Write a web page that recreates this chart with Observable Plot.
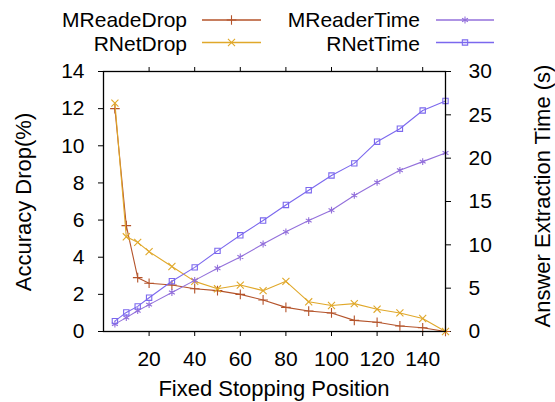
<!DOCTYPE html>
<html>
<head>
<meta charset="utf-8">
<script src="https://cdn.jsdelivr.net/npm/d3@7"></script>
<script src="https://cdn.jsdelivr.net/npm/@observablehq/plot@0.6"></script>
<style>
  html, body { margin: 0; padding: 0; background: white; }
  #chart svg { display: block; }
</style>
</head>
<body>
<div id="chart"></div>
<script>
const positions = [5, 10, 15, 20, 30, 40, 50, 60, 70, 80, 90, 100, 110, 120, 130, 140, 150];
const mreadeDrop = [12.0, 5.7, 2.9, 2.6, 2.5, 2.3, 2.2, 2.0, 1.7, 1.3, 1.1, 1.0, 0.6, 0.5, 0.3, 0.2, 0];
const rnetDrop = [12.3, 5.1, 4.8, 4.3, 3.5, 2.7, 2.3, 2.5, 2.2, 2.7, 1.6, 1.4, 1.5, 1.2, 1.0, 0.7, 0];
const mreaderTime = [0.85, 1.6, 2.4, 3.1, 4.5, 5.9, 7.3, 8.6, 10.1, 11.5, 12.8, 14.0, 15.7, 17.2, 18.6, 19.6, 20.6];
const rnetTime = [1.2, 2.2, 2.9, 3.9, 5.8, 7.4, 9.3, 11.1, 12.8, 14.6, 16.3, 18.0, 19.4, 21.9, 23.4, 25.5, 26.6];

const xTicks = [20, 40, 60, 80, 100, 120, 140];
const leftTicks = [0, 2, 4, 6, 8, 10, 12, 14];
const rightTicks = [0, 5, 10, 15, 20, 25, 30];
const leftMax = 14, rightMax = 30;
const k = leftMax / rightMax;

const series = [
  {name: "MReadeDrop", values: mreadeDrop, axis: "left", color: "#b4532a", symbol: "plus", r: 3.2},
  {name: "RNetDrop", values: rnetDrop, axis: "left", color: "#e0a82a", symbol: "times", r: 3.3},
  {name: "MReaderTime", values: mreaderTime, axis: "right", color: "#9370db", symbol: "asterisk", r: 3.2},
  {name: "RNetTime", values: rnetTime, axis: "right", color: "#7b68ee", symbol: "square2", r: 3.4}
];

const rows = series.flatMap(s => positions.map((p, i) => ({
  name: s.name, x: p, y: s.axis === "left" ? s.values[i] : s.values[i] * k
})));

const font = "'Liberation Sans', Arial, Helvetica, sans-serif";

const marks = [
  Plot.axisX({anchor: "bottom", ticks: xTicks, tickSize: 5, tickPadding: 15, label: null}),
  Plot.axisX({anchor: "top", ticks: xTicks, tickSize: 5, tickFormat: () => "", label: null}),
  Plot.axisY({anchor: "left", ticks: leftTicks, tickSize: 5, tickPadding: 14, label: null}),
  Plot.axisY({anchor: "right", ticks: rightTicks.map(v => v * k), tickSize: 5, tickPadding: 18,
    tickFormat: d => String(Math.round(d / k)), label: null})
];
for (const s of series) {
  const data = rows.filter(d => d.name === s.name);
  marks.push(Plot.line(data, {x: "x", y: "y", stroke: s.color, strokeWidth: 1.1}));
  marks.push(Plot.dot(data, {x: "x", y: "y", stroke: s.color, fill: "none", symbol: s.symbol, r: s.r, strokeWidth: 1.1}));
}
marks.push(Plot.frame({stroke: "black", strokeWidth: 1.3}));

const chart = Plot.plot({
  width: 555,
  height: 402,
  marginLeft: 103,
  marginRight: 110,
  marginTop: 71,
  marginBottom: 71,
  style: {fontFamily: font, fontSize: "21px", color: "black", background: "white", overflow: "visible"},
  x: {domain: [0, 150]},
  y: {domain: [0, leftMax]},
  marks
});

document.getElementById("chart").appendChild(chart);

// titles and legend
const svg = d3.select(chart);
const g = svg.append("g").attr("font-family", font).attr("font-size", 22).attr("fill", "black");
g.append("text").attr("x", 274).attr("y", 396).attr("text-anchor", "middle").text("Fixed Stopping Position");
g.append("text").attr("transform", "translate(31,202) rotate(-90)").attr("text-anchor", "middle").text("Accuracy Drop(%)");
g.append("text").attr("transform", "translate(550,196) rotate(-90)").attr("text-anchor", "middle").text("Answer Extraction Time (s)");

const legendLayout = [
  {s: series[0], tx: 187, ty: 27, lx0: 202, lx1: 261, ly: 20},
  {s: series[1], tx: 187, ty: 50.5, lx0: 202, lx1: 261, ly: 42.5},
  {s: series[2], tx: 420, ty: 27, lx0: 436, lx1: 494, ly: 20},
  {s: series[3], tx: 420, ty: 50.5, lx0: 436, lx1: 494, ly: 42.5}
];
const symMap = {plus: d3.symbolPlus, times: d3.symbolTimes, asterisk: d3.symbolAsterisk, square2: d3.symbolSquare2};
for (const L of legendLayout) {
  g.append("text").attr("x", L.tx).attr("y", L.ty).attr("text-anchor", "end").attr("font-size", 21).text(L.s.name);
  g.append("line").attr("x1", L.lx0).attr("x2", L.lx1).attr("y1", L.ly).attr("y2", L.ly)
    .attr("stroke", L.s.color).attr("stroke-width", 1.6);
  g.append("path").attr("d", d3.symbol(symMap[L.s.symbol], L.s.r * L.s.r * Math.PI)())
    .attr("transform", `translate(${(L.lx0 + L.lx1) / 2},${L.ly})`)
    .attr("fill", "none").attr("stroke", L.s.color).attr("stroke-width", 1.1);
}
</script>
</body>
</html>
